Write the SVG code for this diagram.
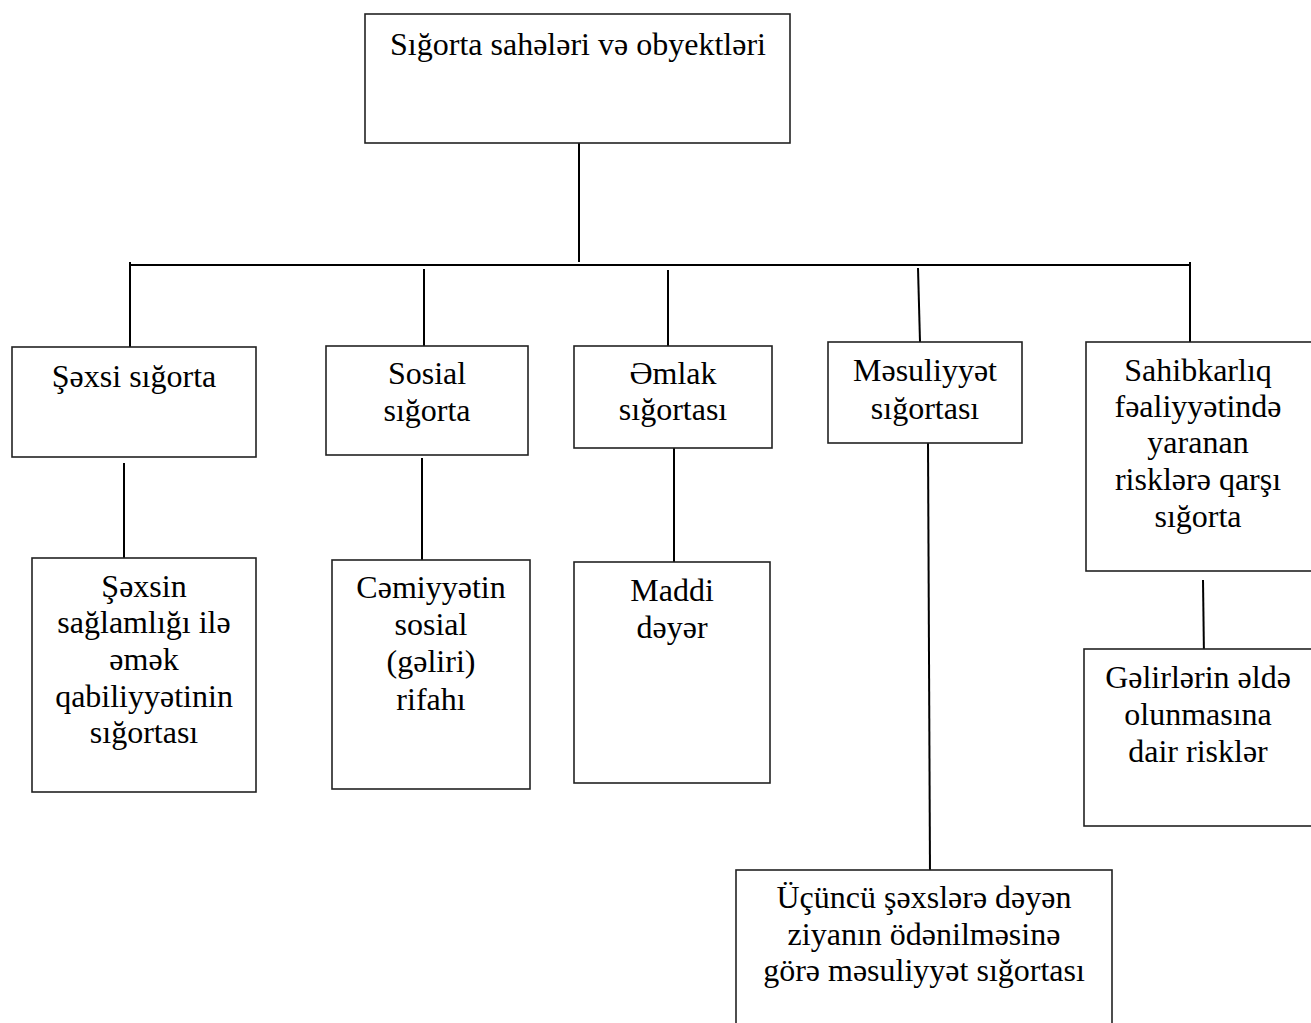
<svg xmlns="http://www.w3.org/2000/svg" width="1311" height="1023" viewBox="0 0 1311 1023">
<style>
.box{fill:#fff;stroke:#222;stroke-width:1.6}
.ln{stroke:#000;stroke-width:2;fill:none}
text{font-family:"Liberation Serif","Times New Roman",serif;font-size:32px;fill:#000;text-anchor:middle}
</style>
<rect width="1311" height="1023" fill="#fff"/>
<g id="connectors">
<line class="ln" x1="579" y1="143" x2="579" y2="262"/>
<line class="ln" x1="130" y1="265" x2="1191" y2="265"/>
<line class="ln" x1="130" y1="262" x2="130" y2="350"/>
<line class="ln" x1="424" y1="269" x2="424" y2="346"/>
<line class="ln" x1="668" y1="270" x2="668" y2="346"/>
<line class="ln" x1="918" y1="268" x2="920" y2="342"/>
<line class="ln" x1="1190" y1="262" x2="1190" y2="345"/>
<line class="ln" x1="124" y1="463" x2="124" y2="558"/>
<line class="ln" x1="422" y1="458" x2="422" y2="560"/>
<line class="ln" x1="674" y1="446" x2="674" y2="562"/>
<line class="ln" x1="928" y1="442" x2="930" y2="872"/>
<line class="ln" x1="1203" y1="580" x2="1204" y2="658"/>
</g>
<g id="root">
<rect class="box" x="365" y="14" width="425" height="129"/>
<text x="578" y="55">Sığorta sahələri və obyektləri</text>
</g>
<g id="sexsi">
<rect class="box" x="12" y="347" width="244" height="110"/>
<text x="134" y="387">Şəxsi sığorta</text>
</g>
<g id="sosial">
<rect class="box" x="326" y="346" width="202" height="109"/>
<text x="427" y="384">Sosial</text>
<text x="427" y="421">sığorta</text>
</g>
<g id="emlak">
<rect class="box" x="574" y="346" width="198" height="102"/>
<text x="673" y="384">Əmlak</text>
<text x="673" y="420">sığortası</text>
</g>
<g id="mesuliyyet">
<rect class="box" x="828" y="342" width="194" height="101"/>
<text x="925" y="381">Məsuliyyət</text>
<text x="925" y="419">sığortası</text>
</g>
<g id="sahibkarliq">
<rect class="box" x="1086" y="342" width="229" height="229"/>
<text x="1198" y="381">Sahibkarlıq</text>
<text x="1198" y="417">fəaliyyətində</text>
<text x="1198" y="453">yaranan</text>
<text x="1198" y="490">risklərə qarşı</text>
<text x="1198" y="527">sığorta</text>
</g>
<g id="sexsin">
<rect class="box" x="32" y="558" width="224" height="234"/>
<text x="144" y="597">Şəxsin</text>
<text x="144" y="633">sağlamlığı ilə</text>
<text x="144" y="670">əmək</text>
<text x="144" y="707">qabiliyyətinin</text>
<text x="144" y="743">sığortası</text>
</g>
<g id="cemiyyetin">
<rect class="box" x="332" y="560" width="198" height="229"/>
<text x="431" y="598">Cəmiyyətin</text>
<text x="431" y="635">sosial</text>
<text x="431" y="672">(gəliri)</text>
<text x="431" y="710">rifahı</text>
</g>
<g id="maddi">
<rect class="box" x="574" y="562" width="196" height="221"/>
<text x="672" y="601">Maddi</text>
<text x="672" y="638">dəyər</text>
</g>
<g id="ucuncu">
<rect class="box" x="736" y="870" width="376" height="170"/>
<text x="924" y="908">Üçüncü şəxslərə dəyən</text>
<text x="924" y="945">ziyanın ödənilməsinə</text>
<text x="924" y="981">görə məsuliyyət sığortası</text>
</g>
<g id="gelirlerin">
<rect class="box" x="1084" y="649" width="231" height="177"/>
<text x="1198" y="688">Gəlirlərin əldə</text>
<text x="1198" y="725">olunmasına</text>
<text x="1198" y="762">dair risklər</text>
</g>
</svg>
